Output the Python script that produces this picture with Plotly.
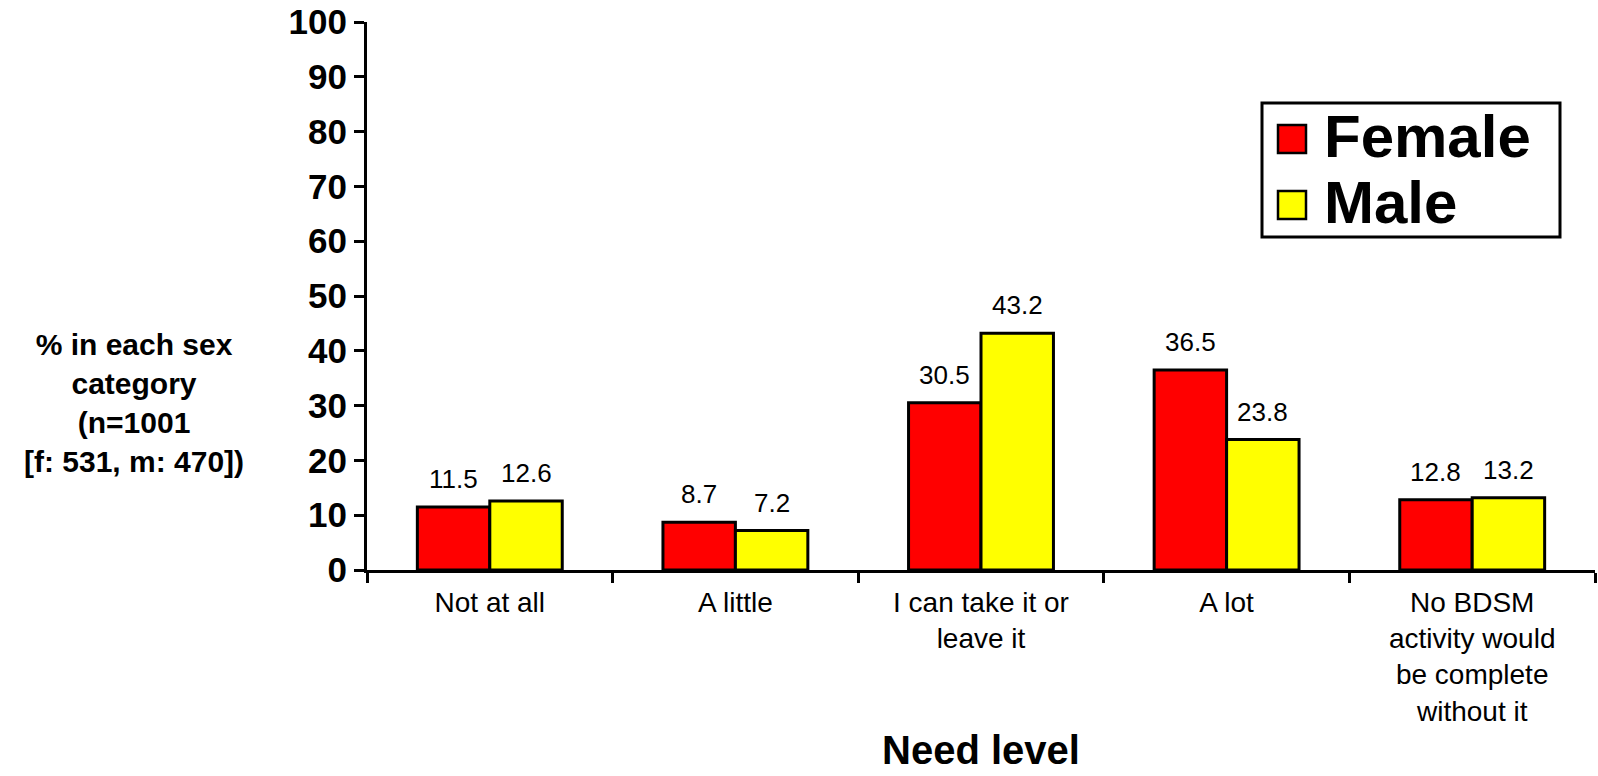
import plotly.graph_objects as go

categories = ["Not at all", "A little", "I can take it or<br>leave it", "A lot",
              "No BDSM<br>activity would<br>be complete<br>without it"]
series_names = ["Female", "Male"]
female = [11.5, 8.7, 30.5, 36.5, 12.8]
male = [12.6, 7.2, 43.2, 23.8, 13.2]
colors = ["#FF0000", "#FFFF00"]
y_ticks = list(range(0, 101, 10))

W, H = 1598, 776
L, T = 367, 22
PW, PH = 1228, 548
R, B = W - L - PW, H - T - PH
FONT = "Liberation Sans, Arial, Helvetica, sans-serif"

def px(x):  # pixel -> paper
    return (x - L) / PW

def py(y):
    return (T + PH - y) / PH

fig = go.Figure()
bargap = 0.41
barw_px = PW / len(categories) * (1 - bargap) / 2
for name, vals, col in zip(series_names, [female, male], colors):
    fig.add_trace(go.Bar(
        x=categories, y=vals, name=name,
        marker=dict(color=col, line=dict(color="black", width=3)),
        showlegend=False,
    ))

annotations = []
for i, vals in enumerate([female, male]):
    shift = (-0.5 if i == 0 else 0.5) * barw_px
    for c, v in zip(categories, vals):
        annotations.append(dict(
            x=c, y=v, xref="x", yref="y", text=f"{v:.1f}", showarrow=False,
            xshift=shift, yshift=11, yanchor="bottom",
            font=dict(family=FONT, size=26, color="black"),
        ))

# y-axis title
annotations.append(dict(
    x=px(134), y=py(403), xref="paper", yref="paper",
    text="% in each sex<br>category<br>(n=1001<br>[f: 531, m: 470])",
    showarrow=False, align="center", xanchor="center", yanchor="middle",
    font=dict(family=FONT, size=30, color="black", weight="bold"),
))
# x-axis title
annotations.append(dict(
    x=0.5, y=py(774), xref="paper", yref="paper", text="Need level",
    showarrow=False, xanchor="center", yanchor="bottom",
    font=dict(family=FONT, size=40, color="black", weight="bold"),
))

# manual legend
shapes = [dict(type="rect", xref="paper", yref="paper",
               x0=px(1262), x1=px(1560), y0=py(237), y1=py(103),
               line=dict(color="black", width=3), fillcolor="white")]
legend_rows = [139, 205]
for name, col, cy in zip(series_names, colors, legend_rows):
    shapes.append(dict(type="rect", xref="paper", yref="paper",
                       x0=px(1278), x1=px(1306), y0=py(cy + 14), y1=py(cy - 14),
                       line=dict(color="black", width=2.5), fillcolor=col))
    annotations.append(dict(
        x=px(1322), y=py(cy - 3), xref="paper", yref="paper", text=name,
        showarrow=False, xanchor="left", yanchor="middle",
        font=dict(family=FONT, size=60, color="black", weight="bold"),
    ))

fig.update_layout(
    width=W, height=H,
    margin=dict(l=L, r=R, t=T, b=B, pad=0),
    paper_bgcolor="white", plot_bgcolor="white",
    barmode="group", bargap=bargap, bargroupgap=0,
    annotations=annotations, shapes=shapes,
    showlegend=False,
)
fig.update_xaxes(
    type="category", showline=True, linecolor="black", linewidth=3,
    ticks="outside", tickson="boundaries", ticklen=10, tickwidth=3, tickcolor="black",
    showgrid=False, zeroline=False, ticklabelstandoff=5,
    tickfont=dict(family=FONT, size=28, color="black"),
)
fig.update_yaxes(
    range=[0, 100], tickvals=y_ticks, ticktext=[str(v) for v in y_ticks],
    showline=True, linecolor="black", linewidth=3,
    ticks="outside", ticklen=10, tickwidth=3, tickcolor="black",
    showgrid=False, zeroline=False, ticklabeloverflow="allow",
    tickfont=dict(family=FONT, size=35, color="black", weight="bold"),
)

fig.write_html(
    "out.html",
    config={"displayModeBar": False},
    post_script="document.body.style.margin='0';document.body.style.overflow='hidden';",
)
